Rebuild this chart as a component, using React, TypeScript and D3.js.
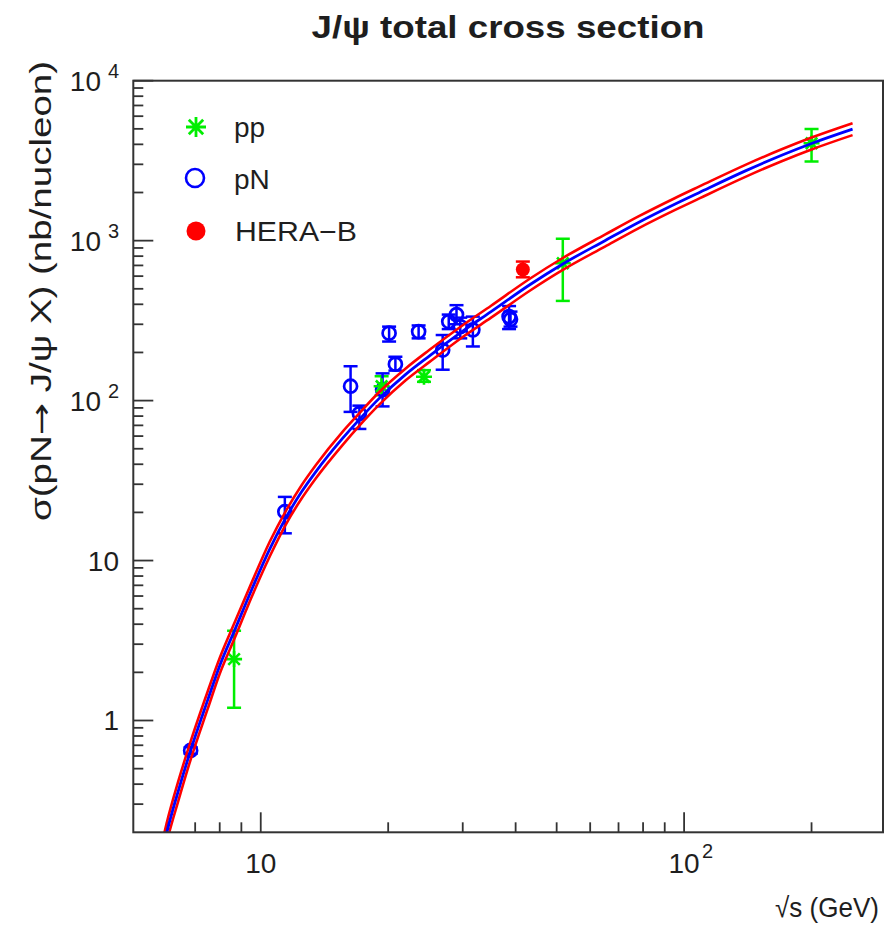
import React from 'react';
import * as d3 from 'd3';

const W = 886;
const H = 929;
const X0 = 133.3, X1 = 883, Y0 = 832.3, Y1 = 80.7;

// pp (green stars): sqrt(s), sigma, lower, upper
const ppX = [8.65, 19.3, 24.3, 51.7, 200];
const ppY = [2.42, 123, 141, 722, 4065];
const ppLo = [1.2, 108, 131, 420, 3130];
const ppHi = [3.64, 142, 155, 1026, 4990];

// pN (blue open circles)
const pnX = [6.83, 11.4, 16.3, 17.1, 19.4, 20.1, 20.8, 23.6, 26.9, 27.8, 29.0, 29.6, 31.7, 38.6, 38.9];
const pnY = [0.65, 20.2, 123, 83, 117, 264, 169, 270, 207, 312, 345, 290, 277, 335, 322];
const pnLo = [0.62, 14.8, 85, 66.5, 92, 234, 154, 245, 156, 280, 300, 245, 218, 280, 290];
const pnHi = [0.68, 25, 164, 93, 148, 290, 188, 295, 257, 345, 395, 330, 335, 390, 360];

// HERA-B (red filled circle)
const hbX = [41.6];
const hbY = [660];
const hbLo = [590];
const hbHi = [740];

// Fit curve (blue centre) and error band (red)
const curveX = [5.85, 6.0, 6.4, 6.83, 7.5, 8.0, 8.69, 9.5, 10.5, 11.46, 12.5, 13.5, 15.6, 17, 19.1, 22, 25, 30, 35, 43.2, 51.7, 65, 78, 95, 109, 140, 170, 200, 250];
const curveC = [0.15, 0.20, 0.37, 0.65, 1.35, 2.2, 3.7, 6.5, 11.8, 18.5, 27, 36, 58, 75, 104, 146, 190, 272, 360, 530, 715, 1000, 1300, 1690, 2010, 2740, 3420, 4050, 4980];
const curveHi = [0.173, 0.23, 0.425, 0.74, 1.53, 2.46, 4.14, 7.2, 13.1, 20.4, 29.7, 39.6, 63.8, 82, 114, 159, 207, 296, 392, 578, 779, 1090, 1417, 1842, 2190, 2987, 3728, 4415, 5428];
const curveLo = [0.13, 0.174, 0.32, 0.57, 1.19, 1.96, 3.3, 5.85, 10.6, 16.8, 24.5, 32.7, 52.7, 68.5, 95, 134, 174, 250, 330, 486, 656, 917, 1193, 1550, 1844, 2514, 3138, 3716, 4569];

const xMinor = [6, 7, 8, 9, 20, 30, 40, 50, 60, 70, 80, 90, 200];
const xMajor = [10, 100];
const yMajor = [1, 10, 100, 1000, 10000];
const yMinor = [0.3, 0.4, 0.5, 0.6, 0.7, 0.8, 0.9, 2, 3, 4, 5, 6, 7, 8, 9, 20, 30, 40, 50, 60, 70, 80, 90, 200, 300, 400, 500, 600, 700, 800, 900, 2000, 3000, 4000, 5000, 6000, 7000, 8000, 9000];
const yLabels = [
  { v: 1, base: '1', exp: '' },
  { v: 10, base: '10', exp: '' },
  { v: 100, base: '10', exp: '2' },
  { v: 1000, base: '10', exp: '3' },
  { v: 10000, base: '10', exp: '4' },
];
const xLabels = [
  { v: 10, base: '10', exp: '' },
  { v: 100, base: '10', exp: '2' },
];

const FONT = "'Liberation Sans', Arial, Helvetica, sans-serif";
const TXT = '#1e1e1e';
const GREEN = '#00ee00';
const BLUE = '#0000ff';
const RED = '#ff0000';

function starPath(cx: number, cy: number, r: number) {
  const d = r * 0.72;
  return `M${cx - r},${cy}L${cx + r},${cy}M${cx},${cy - r}L${cx},${cy + r}` +
    `M${cx - d},${cy - d}L${cx + d},${cy + d}M${cx - d},${cy + d}L${cx + d},${cy - d}`;
}

export default function App() {
  const xs = d3.scaleLog().domain([5, 295]).range([X0, X1]);
  const ys = d3.scaleLog().domain([0.2, 10000]).range([Y0, Y1]);

  const line = d3.line<[number, number]>()
    .x(d => xs(d[0]))
    .y(d => ys(d[1]))
    .curve(d3.curveMonotoneX);

  const cPts = curveX.map((x, i) => [x, curveC[i]] as [number, number]);
  const hPts = curveX.map((x, i) => [x, curveHi[i]] as [number, number]);
  const lPts = curveX.map((x, i) => [x, curveLo[i]] as [number, number]);

  const cap = 7;

  const errBar = (x: number, lo: number, hi: number, color: string, key: string) => (
    <g key={key} stroke={color} strokeWidth={2.5} fill="none">
      <line x1={xs(x)} x2={xs(x)} y1={ys(lo)} y2={ys(hi)} />
      <line x1={xs(x) - cap} x2={xs(x) + cap} y1={ys(lo)} y2={ys(lo)} />
      <line x1={xs(x) - cap} x2={xs(x) + cap} y1={ys(hi)} y2={ys(hi)} />
    </g>
  );

  return (
    <svg width={W} height={H} style={{ position: 'absolute', left: 0, top: 0, background: '#fff' }}>
      <rect x={0} y={0} width={W} height={H} fill="#fff" />
      <defs>
        <clipPath id="plot">
          <rect x={X0} y={Y1} width={X1 - X0} height={Y0 - Y1} />
        </clipPath>
      </defs>

      {/* title */}
      <text x={508} y={38} textAnchor="middle" fontFamily={FONT} fontWeight="bold" fontSize={32}
        fill={TXT} textLength={393} lengthAdjust="spacingAndGlyphs">J/ψ total cross section</text>

      {/* ticks */}
      <g stroke="#333" strokeWidth={1.8}>
        {xMinor.map(v => <line key={'xm' + v} x1={xs(v)} x2={xs(v)} y1={Y0} y2={Y0 - 10} />)}
        {xMajor.map(v => <line key={'xM' + v} x1={xs(v)} x2={xs(v)} y1={Y0} y2={Y0 - 20} />)}
        {yMinor.map(v => <line key={'ym' + v} x1={X0} x2={X0 + 10} y1={ys(v)} y2={ys(v)} />)}
        {yMajor.map(v => <line key={'yM' + v} x1={X0} x2={X0 + 20} y1={ys(v)} y2={ys(v)} />)}
      </g>

      {/* data */}
      <g clipPath="url(#plot)">
        {ppX.map((x, i) => errBar(x, ppLo[i], ppHi[i], GREEN, 'ppe' + i))}
        {pnX.map((x, i) => errBar(x, pnLo[i], pnHi[i], BLUE, 'pne' + i))}
        {hbX.map((x, i) => errBar(x, hbLo[i], hbHi[i], RED, 'hbe' + i))}
        {pnX.map((x, i) => (
          <circle key={'pn' + i} cx={xs(x)} cy={ys(pnY[i])} r={6.5} fill="none" stroke={BLUE} strokeWidth={2.7} />
        ))}
        {ppX.map((x, i) => (
          <path key={'pp' + i} d={starPath(xs(x), ys(ppY[i]), 8)} stroke={GREEN} strokeWidth={2.6} fill="none" />
        ))}
        {hbX.map((x, i) => (
          <circle key={'hb' + i} cx={xs(x)} cy={ys(hbY[i])} r={7} fill={RED} />
        ))}

        {/* curves */}
        <path d={line(hPts) || ''} fill="none" stroke={RED} strokeWidth={2.6} />
        <path d={line(lPts) || ''} fill="none" stroke={RED} strokeWidth={2.6} />
        <path d={line(cPts) || ''} fill="none" stroke={BLUE} strokeWidth={2.8} />
      </g>

      {/* frame */}
      <rect x={X0} y={Y1} width={X1 - X0} height={Y0 - Y1} fill="none" stroke="#333" strokeWidth={2} />

      {/* y tick labels */}
      {yLabels.map(l => (
        l.exp ? (
          <g key={'yl' + l.v} fontFamily={FONT} fill={TXT}>
            <text x={101} y={ys(l.v) + 10} textAnchor="end" fontSize={28}>{l.base}</text>
            <text x={108} y={ys(l.v) - 3} textAnchor="start" fontSize={20}>{l.exp}</text>
          </g>
        ) : (
          <text key={'yl' + l.v} x={119} y={ys(l.v) + 10} textAnchor="end" fontSize={28}
            fontFamily={FONT} fill={TXT}>{l.base}</text>
        )
      ))}

      {/* x tick labels */}
      {xLabels.map(l => (
        <g key={'xl' + l.v} fontFamily={FONT} fill={TXT}>
          <text x={xs(l.v)} y={873} textAnchor="middle" fontSize={28}>{l.base}</text>
          {l.exp && <text x={xs(l.v) + 18} y={858} fontSize={20}>{l.exp}</text>}
        </g>
      ))}

      {/* axis titles */}
      <text x={879} y={917} textAnchor="end" fontFamily={FONT} fontSize={28} fill={TXT}
        textLength={104} lengthAdjust="spacingAndGlyphs">√s (GeV)</text>
      <text transform="translate(51,291) rotate(-90)" textAnchor="middle" fontFamily={FONT} fontSize={29}
        fill={TXT} textLength={460} lengthAdjust="spacingAndGlyphs">σ(pN<tspan fontFamily="'DejaVu Sans', sans-serif">→</tspan> J/ψ X) (nb/nucleon)</text>

      {/* legend */}
      <path d={starPath(196, 127, 10)} stroke={GREEN} strokeWidth={2.8} fill="none" />
      <text x={234} y={137} fontFamily={FONT} fontSize={28} fill={TXT}>pp</text>
      <circle cx={195} cy={178} r={9} fill="none" stroke={BLUE} strokeWidth={2.6} />
      <text x={234} y={189} fontFamily={FONT} fontSize={28} fill={TXT}>pN</text>
      <circle cx={196} cy={231} r={9.5} fill={RED} />
      <text x={235} y={241} fontFamily={FONT} fontSize={28} fill={TXT}
        textLength={122} lengthAdjust="spacingAndGlyphs">HERA−B</text>
    </svg>
  );
}
